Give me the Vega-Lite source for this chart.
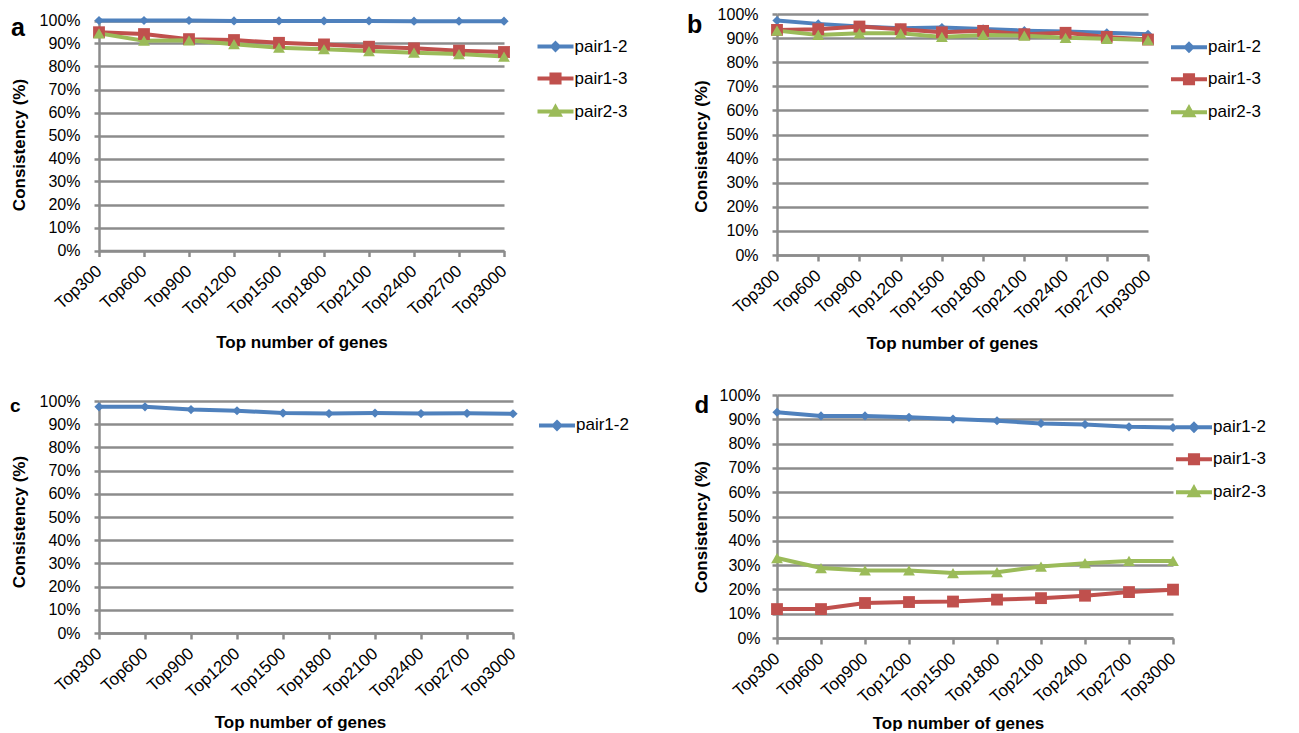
{
  "$schema": "https://vega.github.io/schema/vega-lite/v6.json",
  "padding": {"left": 10, "top": 6, "right": 0, "bottom": 0},
  "background": "white",
  "datasets": {
    "a": [
      {"top": "Top300", "pair": "pair1-2", "value": 1.0},
      {"top": "Top600", "pair": "pair1-2", "value": 1.0},
      {"top": "Top900", "pair": "pair1-2", "value": 1.0},
      {"top": "Top1200", "pair": "pair1-2", "value": 0.998},
      {"top": "Top1500", "pair": "pair1-2", "value": 0.998},
      {"top": "Top1800", "pair": "pair1-2", "value": 0.998},
      {"top": "Top2100", "pair": "pair1-2", "value": 0.998},
      {"top": "Top2400", "pair": "pair1-2", "value": 0.997},
      {"top": "Top2700", "pair": "pair1-2", "value": 0.997},
      {"top": "Top3000", "pair": "pair1-2", "value": 0.997},
      {"top": "Top300", "pair": "pair1-3", "value": 0.949},
      {"top": "Top600", "pair": "pair1-3", "value": 0.941},
      {"top": "Top900", "pair": "pair1-3", "value": 0.919},
      {"top": "Top1200", "pair": "pair1-3", "value": 0.915},
      {"top": "Top1500", "pair": "pair1-3", "value": 0.903},
      {"top": "Top1800", "pair": "pair1-3", "value": 0.896},
      {"top": "Top2100", "pair": "pair1-3", "value": 0.886},
      {"top": "Top2400", "pair": "pair1-3", "value": 0.879},
      {"top": "Top2700", "pair": "pair1-3", "value": 0.869},
      {"top": "Top3000", "pair": "pair1-3", "value": 0.863},
      {"top": "Top300", "pair": "pair2-3", "value": 0.944},
      {"top": "Top600", "pair": "pair2-3", "value": 0.912},
      {"top": "Top900", "pair": "pair2-3", "value": 0.914},
      {"top": "Top1200", "pair": "pair2-3", "value": 0.897},
      {"top": "Top1500", "pair": "pair2-3", "value": 0.882},
      {"top": "Top1800", "pair": "pair2-3", "value": 0.875},
      {"top": "Top2100", "pair": "pair2-3", "value": 0.867},
      {"top": "Top2400", "pair": "pair2-3", "value": 0.86},
      {"top": "Top2700", "pair": "pair2-3", "value": 0.854},
      {"top": "Top3000", "pair": "pair2-3", "value": 0.843}
    ],
    "b": [
      {"top": "Top300", "pair": "pair1-2", "value": 0.973},
      {"top": "Top600", "pair": "pair1-2", "value": 0.959},
      {"top": "Top900", "pair": "pair1-2", "value": 0.948},
      {"top": "Top1200", "pair": "pair1-2", "value": 0.941},
      {"top": "Top1500", "pair": "pair1-2", "value": 0.944},
      {"top": "Top1800", "pair": "pair1-2", "value": 0.938},
      {"top": "Top2100", "pair": "pair1-2", "value": 0.931},
      {"top": "Top2400", "pair": "pair1-2", "value": 0.927},
      {"top": "Top2700", "pair": "pair1-2", "value": 0.922},
      {"top": "Top3000", "pair": "pair1-2", "value": 0.916},
      {"top": "Top300", "pair": "pair1-3", "value": 0.934},
      {"top": "Top600", "pair": "pair1-3", "value": 0.937},
      {"top": "Top900", "pair": "pair1-3", "value": 0.948},
      {"top": "Top1200", "pair": "pair1-3", "value": 0.937},
      {"top": "Top1500", "pair": "pair1-3", "value": 0.924},
      {"top": "Top1800", "pair": "pair1-3", "value": 0.93},
      {"top": "Top2100", "pair": "pair1-3", "value": 0.916},
      {"top": "Top2400", "pair": "pair1-3", "value": 0.922},
      {"top": "Top2700", "pair": "pair1-3", "value": 0.905},
      {"top": "Top3000", "pair": "pair1-3", "value": 0.894},
      {"top": "Top300", "pair": "pair2-3", "value": 0.931},
      {"top": "Top600", "pair": "pair2-3", "value": 0.913},
      {"top": "Top900", "pair": "pair2-3", "value": 0.92},
      {"top": "Top1200", "pair": "pair2-3", "value": 0.92},
      {"top": "Top1500", "pair": "pair2-3", "value": 0.905},
      {"top": "Top1800", "pair": "pair2-3", "value": 0.913},
      {"top": "Top2100", "pair": "pair2-3", "value": 0.91},
      {"top": "Top2400", "pair": "pair2-3", "value": 0.901},
      {"top": "Top2700", "pair": "pair2-3", "value": 0.897},
      {"top": "Top3000", "pair": "pair2-3", "value": 0.892}
    ],
    "c": [
      {"top": "Top300", "pair": "pair1-2", "value": 0.975},
      {"top": "Top600", "pair": "pair1-2", "value": 0.975},
      {"top": "Top900", "pair": "pair1-2", "value": 0.963},
      {"top": "Top1200", "pair": "pair1-2", "value": 0.958},
      {"top": "Top1500", "pair": "pair1-2", "value": 0.948},
      {"top": "Top1800", "pair": "pair1-2", "value": 0.946},
      {"top": "Top2100", "pair": "pair1-2", "value": 0.948},
      {"top": "Top2400", "pair": "pair1-2", "value": 0.946},
      {"top": "Top2700", "pair": "pair1-2", "value": 0.947},
      {"top": "Top3000", "pair": "pair1-2", "value": 0.945}
    ],
    "d": [
      {"top": "Top300", "pair": "pair1-2", "value": 0.929},
      {"top": "Top600", "pair": "pair1-2", "value": 0.914},
      {"top": "Top900", "pair": "pair1-2", "value": 0.914},
      {"top": "Top1200", "pair": "pair1-2", "value": 0.908},
      {"top": "Top1500", "pair": "pair1-2", "value": 0.901},
      {"top": "Top1800", "pair": "pair1-2", "value": 0.894},
      {"top": "Top2100", "pair": "pair1-2", "value": 0.883},
      {"top": "Top2400", "pair": "pair1-2", "value": 0.879},
      {"top": "Top2700", "pair": "pair1-2", "value": 0.869},
      {"top": "Top3000", "pair": "pair1-2", "value": 0.866},
      {"top": "Top300", "pair": "pair1-3", "value": 0.119},
      {"top": "Top600", "pair": "pair1-3", "value": 0.119},
      {"top": "Top900", "pair": "pair1-3", "value": 0.144},
      {"top": "Top1200", "pair": "pair1-3", "value": 0.148},
      {"top": "Top1500", "pair": "pair1-3", "value": 0.15},
      {"top": "Top1800", "pair": "pair1-3", "value": 0.158},
      {"top": "Top2100", "pair": "pair1-3", "value": 0.164},
      {"top": "Top2400", "pair": "pair1-3", "value": 0.174},
      {"top": "Top2700", "pair": "pair1-3", "value": 0.189},
      {"top": "Top3000", "pair": "pair1-3", "value": 0.199},
      {"top": "Top300", "pair": "pair2-3", "value": 0.329},
      {"top": "Top600", "pair": "pair2-3", "value": 0.288},
      {"top": "Top900", "pair": "pair2-3", "value": 0.278},
      {"top": "Top1200", "pair": "pair2-3", "value": 0.278},
      {"top": "Top1500", "pair": "pair2-3", "value": 0.267},
      {"top": "Top1800", "pair": "pair2-3", "value": 0.271},
      {"top": "Top2100", "pair": "pair2-3", "value": 0.294},
      {"top": "Top2400", "pair": "pair2-3", "value": 0.308},
      {"top": "Top2700", "pair": "pair2-3", "value": 0.317},
      {"top": "Top3000", "pair": "pair2-3", "value": 0.317}
    ]
  },
  "columns": 2,
  "align": "none",
  "spacing": 58,
  "resolve": {
    "scale": {"color": "independent", "x": "independent", "y": "independent"},
    "legend": {"color": "independent"}
  },
  "concat": [
    {
      "concat": [
        {
          "data": {"name": "a"},
          "width": 405,
          "height": 236.5,
          "encoding": {
            "x": {"field": "top", "type": "ordinal", "sort": ["Top300", "Top600", "Top900", "Top1200", "Top1500", "Top1800", "Top2100", "Top2400", "Top2700", "Top3000"], "scale": {"type": "point", "padding": 0},
              "axis": {"title": "Top number of  genes", "titleY": 97, "titleBaseline": "alphabetic", "labelAngle": -42, "labelAlign": "right", "labelBaseline": "middle", "labelPadding": 12, "tickSize": 6, "grid": false, "labelOverlap": false}},
            "y": {"field": "value", "type": "quantitative", "scale": {"domain": [0, 1], "nice": false, "range": [236.5, 6.5]},
              "axis": {"title": "Consistency  (%)", "values": [0, 0.1, 0.2, 0.3, 0.4, 0.5, 0.6, 0.7, 0.8, 0.9, 1], "format": ".0%", "tickSize": 5, "labelPadding": 14, "grid": true, "titleX": -80, "titleY": 130.5, "titleBaseline": "middle", "titleAlign": "center", "titleAngle": 270}},
            "color": {"field": "pair", "type": "nominal", "scale": {"domain": ["pair1-2", "pair1-3", "pair2-3"], "range": ["#4F81BD", "#C0504D", "#9BBB59"]},
              "legend": {"orient": "none", "legendX": 445.5, "legendY": 21.5, "padding": 0, "title": null, "symbolSize": 324, "symbolStrokeWidth": 4, "labelOffset": 8, "rowPadding": 7, "labelFontSize": 17,
                "encode": {"symbols": {"update": {
                  "shape": {"signal": "datum.value === 'pair1-2' ? 'M-2,0H2M0,-0.35L0.35,0L0,0.35L-0.35,0Z' : datum.value === 'pair1-3' ? 'M-2,0H2M-0.45,-0.45H0.45V0.45H-0.45Z' : 'M-2,0H2M0,-0.45L0.45,0.35H-0.45Z'"},
                  "stroke": {"signal": "datum.value === 'pair1-2' ? '#4F81BD' : datum.value === 'pair1-3' ? '#C0504D' : '#9BBB59'"},
                  "fill": {"signal": "datum.value === 'pair1-2' ? '#4F81BD' : datum.value === 'pair1-3' ? '#C0504D' : '#9BBB59'"},
                  "strokeWidth": {"value": 4}, "opacity": {"value": 1}}}}}}
          },
          "layer": [
            {"mark": {"type": "line", "strokeWidth": 4}},
            {"transform": [{"filter": "datum.pair === 'pair1-2'"}], "mark": {"type": "point", "filled": true, "opacity": 1, "shape": "diamond", "size": 85}},
            {"transform": [{"filter": "datum.pair === 'pair1-3'"}], "mark": {"type": "point", "filled": true, "opacity": 1, "shape": "square", "size": 140}},
            {"transform": [{"filter": "datum.pair === 'pair2-3'"}], "mark": {"type": "point", "filled": true, "opacity": 1, "shape": "triangle-up", "size": 140}},
            {"transform": [{"filter": "datum.top === 'Top300' && datum.pair === 'pair1-2'"}],
              "mark": {"type": "text", "text": "a", "align": "left", "baseline": "alphabetic", "fontSize": 25, "fontWeight": "bold", "font": "Liberation Sans", "dx": -88, "dy": 15.5, "color": "#000000"},
              "encoding": {"y": {"datum": 1, "type": "quantitative"}, "color": {"value": "#000000"}}}
          ]
        },
        {
          "data": {"name": "c"},
          "width": 414,
          "height": 232,
          "encoding": {
            "x": {"field": "top", "type": "ordinal", "sort": ["Top300", "Top600", "Top900", "Top1200", "Top1500", "Top1800", "Top2100", "Top2400", "Top2700", "Top3000"], "scale": {"type": "point", "padding": 0},
              "axis": {"title": "Top number of genes", "titleX": 201, "titleY": 94.5, "titleBaseline": "alphabetic", "labelAngle": -42, "labelAlign": "right", "labelBaseline": "middle", "labelPadding": 12, "tickSize": 6, "grid": false, "labelOverlap": false}},
            "y": {"field": "value", "type": "quantitative", "scale": {"domain": [0, 1], "nice": false},
              "axis": {"title": "Consistency  (%)", "values": [0, 0.1, 0.2, 0.3, 0.4, 0.5, 0.6, 0.7, 0.8, 0.9, 1], "format": ".0%", "tickSize": 5, "labelPadding": 14, "grid": true, "titleX": -80, "titleY": 120.5, "titleBaseline": "middle", "titleAlign": "center", "titleAngle": 270}},
            "color": {"field": "pair", "type": "nominal", "scale": {"domain": ["pair1-2"], "range": ["#4F81BD"]},
              "legend": {"orient": "none", "legendX": 447, "legendY": 13.4, "padding": 0, "title": null, "symbolSize": 324, "symbolStrokeWidth": 4, "labelOffset": 8, "rowPadding": 7, "labelFontSize": 17,
                "encode": {"symbols": {"update": {
                  "shape": {"value": "M-2,0H2M0,-0.35L0.35,0L0,0.35L-0.35,0Z"},
                  "stroke": {"value": "#4F81BD"},
                  "fill": {"value": "#4F81BD"},
                  "strokeWidth": {"value": 4}, "opacity": {"value": 1}}}}}}
          },
          "layer": [
            {"mark": {"type": "line", "strokeWidth": 4}},
            {"mark": {"type": "point", "filled": true, "opacity": 1, "shape": "diamond", "size": 85}},
            {"transform": [{"filter": "datum.top === 'Top300'"}],
              "mark": {"type": "text", "text": "c", "align": "left", "baseline": "alphabetic", "fontSize": 19, "fontWeight": "bold", "font": "Liberation Sans", "dx": -89, "dy": 10.5, "color": "#000000"},
              "encoding": {"y": {"datum": 1, "type": "quantitative"}, "color": {"value": "#000000"}}}
          ]
        }
      ],
      "columns": 1,
      "spacing": 42,
      "bounds": "full",
      "align": "none",
      "resolve": {
        "scale": {"color": "independent", "x": "independent", "y": "independent"},
        "legend": {"color": "independent"}
      }
    },
    {
      "concat": [
        {
          "data": {"name": "b"},
          "width": 371,
          "height": 241,
          "encoding": {
            "x": {"field": "top", "type": "ordinal", "sort": ["Top300", "Top600", "Top900", "Top1200", "Top1500", "Top1800", "Top2100", "Top2400", "Top2700", "Top3000"], "scale": {"type": "point", "padding": 0},
              "axis": {"title": "Top number of  genes", "titleX": 175, "titleY": 93.3, "titleBaseline": "alphabetic", "labelAngle": -42, "labelAlign": "right", "labelBaseline": "middle", "labelPadding": 12, "tickSize": 6, "grid": false, "labelOverlap": false}},
            "y": {"field": "value", "type": "quantitative", "scale": {"domain": [0, 1], "nice": false},
              "axis": {"title": "Consistency  (%)", "values": [0, 0.1, 0.2, 0.3, 0.4, 0.5, 0.6, 0.7, 0.8, 0.9, 1], "format": ".0%", "tickSize": 5, "labelPadding": 14, "grid": true, "titleX": -76, "titleY": 132, "titleBaseline": "middle", "titleAlign": "center", "titleAngle": 270}},
            "color": {"field": "pair", "type": "nominal", "scale": {"domain": ["pair1-2", "pair1-3", "pair2-3"], "range": ["#4F81BD", "#C0504D", "#9BBB59"]},
              "legend": {"orient": "none", "legendX": 401, "legendY": 22.2, "padding": 0, "title": null, "symbolSize": 324, "symbolStrokeWidth": 4, "labelOffset": 8, "rowPadding": 7, "labelFontSize": 17,
                "encode": {"symbols": {"update": {
                  "shape": {"signal": "datum.value === 'pair1-2' ? 'M-2,0H2M0,-0.35L0.35,0L0,0.35L-0.35,0Z' : datum.value === 'pair1-3' ? 'M-2,0H2M-0.45,-0.45H0.45V0.45H-0.45Z' : 'M-2,0H2M0,-0.45L0.45,0.35H-0.45Z'"},
                  "stroke": {"signal": "datum.value === 'pair1-2' ? '#4F81BD' : datum.value === 'pair1-3' ? '#C0504D' : '#9BBB59'"},
                  "fill": {"signal": "datum.value === 'pair1-2' ? '#4F81BD' : datum.value === 'pair1-3' ? '#C0504D' : '#9BBB59'"},
                  "strokeWidth": {"value": 4}, "opacity": {"value": 1}}}}}}
          },
          "layer": [
            {"mark": {"type": "line", "strokeWidth": 4}},
            {"transform": [{"filter": "datum.pair === 'pair1-2'"}], "mark": {"type": "point", "filled": true, "opacity": 1, "shape": "diamond", "size": 85}},
            {"transform": [{"filter": "datum.pair === 'pair1-3'"}], "mark": {"type": "point", "filled": true, "opacity": 1, "shape": "square", "size": 140}},
            {"transform": [{"filter": "datum.pair === 'pair2-3'"}], "mark": {"type": "point", "filled": true, "opacity": 1, "shape": "triangle-up", "size": 140}},
            {"transform": [{"filter": "datum.top === 'Top300' && datum.pair === 'pair1-2'"}],
              "mark": {"type": "text", "text": "b", "align": "left", "baseline": "alphabetic", "fontSize": 25, "fontWeight": "bold", "font": "Liberation Sans", "dx": -90, "dy": 19.3, "color": "#000000"},
              "encoding": {"y": {"datum": 1, "type": "quantitative"}, "color": {"value": "#000000"}}}
          ]
        },
        {
          "data": {"name": "d"},
          "width": 396,
          "height": 243,
          "encoding": {
            "x": {"field": "top", "type": "ordinal", "sort": ["Top300", "Top600", "Top900", "Top1200", "Top1500", "Top1800", "Top2100", "Top2400", "Top2700", "Top3000"], "scale": {"type": "point", "padding": 0},
              "axis": {"title": "Top number of  genes", "titleX": 181, "titleY": 90, "titleBaseline": "alphabetic", "labelAngle": -42, "labelAlign": "right", "labelBaseline": "middle", "labelPadding": 12, "tickSize": 6, "grid": false, "labelOverlap": false}},
            "y": {"field": "value", "type": "quantitative", "scale": {"domain": [0, 1], "nice": false},
              "axis": {"title": "Consistency  (%)", "values": [0, 0.1, 0.2, 0.3, 0.4, 0.5, 0.6, 0.7, 0.8, 0.9, 1], "format": ".0%", "tickSize": 5, "labelPadding": 12, "grid": true, "titleX": -76, "titleY": 131.7, "titleBaseline": "middle", "titleAlign": "center", "titleAngle": 270}},
            "color": {"field": "pair", "type": "nominal", "scale": {"domain": ["pair1-2", "pair1-3", "pair2-3"], "range": ["#4F81BD", "#C0504D", "#9BBB59"]},
              "legend": {"orient": "none", "legendX": 406, "legendY": 21.2, "padding": 0, "title": null, "symbolSize": 324, "symbolStrokeWidth": 4, "labelOffset": 8, "rowPadding": 7, "labelFontSize": 17,
                "encode": {"symbols": {"update": {
                  "shape": {"signal": "datum.value === 'pair1-2' ? 'M-2,0H2M0,-0.35L0.35,0L0,0.35L-0.35,0Z' : datum.value === 'pair1-3' ? 'M-2,0H2M-0.45,-0.45H0.45V0.45H-0.45Z' : 'M-2,0H2M0,-0.45L0.45,0.35H-0.45Z'"},
                  "stroke": {"signal": "datum.value === 'pair1-2' ? '#4F81BD' : datum.value === 'pair1-3' ? '#C0504D' : '#9BBB59'"},
                  "fill": {"signal": "datum.value === 'pair1-2' ? '#4F81BD' : datum.value === 'pair1-3' ? '#C0504D' : '#9BBB59'"},
                  "strokeWidth": {"value": 4}, "opacity": {"value": 1}}}}}}
          },
          "layer": [
            {"mark": {"type": "line", "strokeWidth": 4}},
            {"transform": [{"filter": "datum.pair === 'pair1-2'"}], "mark": {"type": "point", "filled": true, "opacity": 1, "shape": "diamond", "size": 85}},
            {"transform": [{"filter": "datum.pair === 'pair1-3'"}], "mark": {"type": "point", "filled": true, "opacity": 1, "shape": "square", "size": 140}},
            {"transform": [{"filter": "datum.pair === 'pair2-3'"}], "mark": {"type": "point", "filled": true, "opacity": 1, "shape": "triangle-up", "size": 140}},
            {"transform": [{"filter": "datum.top === 'Top300' && datum.pair === 'pair1-2'"}],
              "mark": {"type": "text", "text": "d", "align": "left", "baseline": "alphabetic", "fontSize": 24, "fontWeight": "bold", "font": "Liberation Sans", "dx": -82.5, "dy": 18, "color": "#000000"},
              "encoding": {"y": {"datum": 1, "type": "quantitative"}, "color": {"value": "#000000"}}}
          ]
        }
      ],
      "columns": 1,
      "spacing": 140,
      "bounds": "flush",
      "align": "none",
      "resolve": {
        "scale": {"color": "independent", "x": "independent", "y": "independent"},
        "legend": {"color": "independent"}
      }
    }
  ],
  "config": {
    "font": "Liberation Sans",
    "view": {"stroke": null},
    "axis": {"labelFont": "Liberation Sans", "labelFontSize": 17, "labelColor": "#000000", "titleFont": "Liberation Sans", "titleFontSize": 17, "titleFontWeight": "bold", "titleColor": "#000000", "domainColor": "#8c8c8c", "domainWidth": 2.5, "tickColor": "#8c8c8c", "tickWidth": 2.5, "gridColor": "#8c8c8c", "gridWidth": 2.5, "gridOpacity": 1},
    "axisY": {"labelFontSize": 16},
    "legend": {"labelFont": "Liberation Sans", "labelFontSize": 17, "labelColor": "#000000"}
  }
}
